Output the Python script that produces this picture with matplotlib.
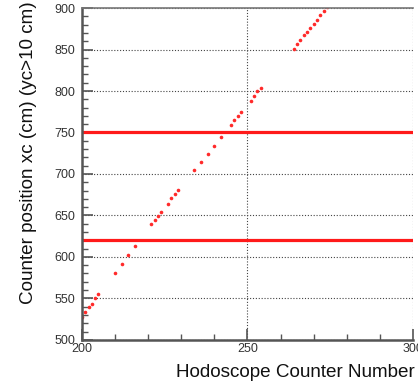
import matplotlib
matplotlib.use('Agg')
import matplotlib.pyplot as plt
import numpy as np
from matplotlib.ticker import MultipleLocator

plt.rcParams['font.family'] = ['Liberation Sans', 'DejaVu Sans']

# hodoscope counter number vs counter position
counter = [200, 201, 202, 203, 204, 205,
           210, 212, 214, 216,
           221, 222, 223, 224, 226, 227, 228, 229,
           234, 236, 238, 240, 242,
           245, 246, 247, 248,
           251, 252, 253, 254,
           264, 265, 266, 267, 268, 269, 270, 271, 272, 273, 274]
xc = [527, 533, 539, 543, 550, 555,
      581, 592, 602, 613,
      640, 645, 649, 654, 664, 671, 676, 681,
      705, 715, 724, 734, 744,
      759, 765, 770, 775,
      788, 794, 800, 804,
      851, 857, 862, 867, 871, 876, 881, 886, 892, 896, 901]
cut_lines = [750, 620]

fig = plt.figure(figsize=(4.18, 3.84), dpi=100)
ax = fig.add_axes([0.196, 0.115, 0.792, 0.864])

ax.plot(counter, xc, 'o', color='#ff2a2a', markersize=2.6, markeredgewidth=0, clip_on=True)
for yv in cut_lines:
    ax.axhline(yv, color='#ff1a1a', lw=2.3)

ax.set_xlim(200, 300)
ax.set_ylim(500, 900)
ax.xaxis.set_major_locator(MultipleLocator(50))
ax.xaxis.set_minor_locator(MultipleLocator(10))
ax.yaxis.set_major_locator(MultipleLocator(50))
ax.yaxis.set_minor_locator(MultipleLocator(10))
ax.tick_params(which='major', direction='in', length=8, width=1.2, color='#555555',
               labelsize=9, labelcolor='#333333', pad=2)
ax.tick_params(axis='y', which='major', pad=5)
ax.tick_params(which='minor', direction='in', length=4, width=1.0, color='#555555')
ax.grid(True, which='major', ls=(0, (1, 1.6)), color='#444444', lw=0.8)

for s in ['left', 'bottom']:
    ax.spines[s].set_color('#555555')
    ax.spines[s].set_linewidth(1.8)
ax.spines['top'].set_color('#777777')
ax.spines['top'].set_linewidth(1.2)
ax.spines['right'].set_visible(False)

ax.set_xlabel('Hodoscope Counter Number', fontsize=13.6, x=1.005, ha='right', color='#111111', labelpad=7)
ax.set_ylabel('Counter position xc (cm) (yc>10 cm)', fontsize=13.6, ha='right', color='#111111')
ax.yaxis.set_label_coords(-0.135, 1.02)

fig.savefig('out.png', dpi=100)
